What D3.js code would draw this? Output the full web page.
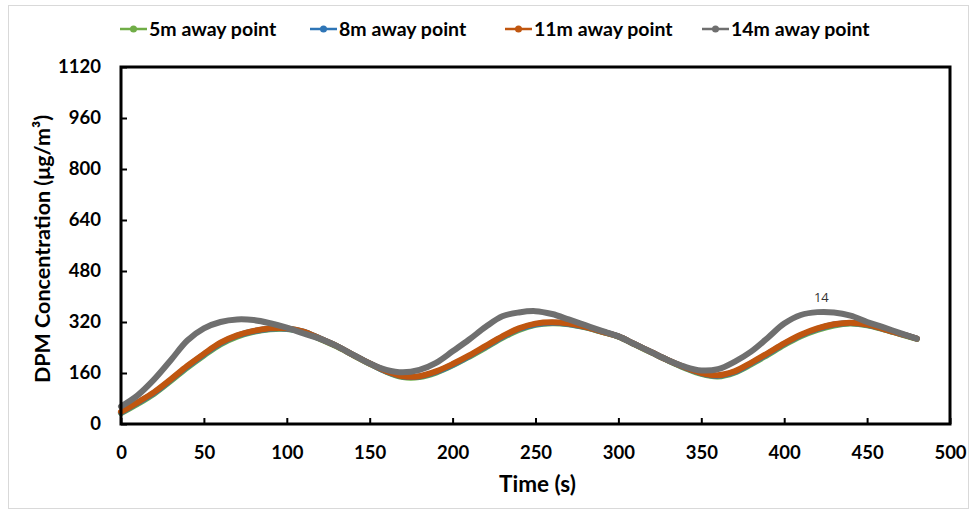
<!DOCTYPE html>
<html>
<head>
<meta charset="utf-8">
<script src="https://cdn.jsdelivr.net/npm/d3@7"></script>
<style>
  body { margin: 0; background: #fff; }
  text { font-family: Lato, "Open Sans", sans-serif; }
</style>
</head>
<body>
<div id="chart"></div>
<script>
// time (s)
const times = [0,10,20,30,40,50,60,70,80,90,100,110,120,130,140,150,160,170,180,190,200,210,220,230,240,250,260,270,280,290,300,310,320,330,340,350,360,370,380,390,400,410,420,430,440,450,460,470,480]
const names = ['5m away point', '8m away point', '11m away point', '14m away point']
const colors = ['#70ad47', '#2e75b6', '#c0560f', '#6f6f6f']
const s5 = [34,63,95,135,177,215,250,274,289,297,298,289,267,244,216,189,164,147,147,161,184,211,240,270,295,311,316,313,303,289,274,249,224,199,176,157,149,161,187,217,248,275,295,309,315,310,297,282,267]
const s8 = [36,66,98,138,180,218,253,277,291,299,299,290,268,245,217,190,165,149,149,163,186,213,243,273,298,313,318,314,304,290,275,250,225,200,177,159,151,163,190,220,251,278,298,312,317,311,298,283,268]
const s11 = [38,68,100,140,182,220,255,278,292,300,300,290,268,245,217,190,166,150,150,165,188,215,245,275,300,315,319,315,305,290,275,250,225,200,178,160,153,165,192,222,253,280,300,313,318,312,298,283,268]
const s14 = [55,90,140,200,262,300,320,328,326,316,302,284,268,245,217,190,170,162,170,192,228,265,305,338,350,354,345,328,310,292,275,250,225,200,180,168,172,195,227,270,315,342,351,350,340,320,303,285,268]
const series = [s5, s8, s11, s14]
const xTicks = [0,50,100,150,200,250,300,350,400,450,500]
const yTicks = [0,160,320,480,640,800,960,1120]
const labelIndex = 42 // "14" data label on the 14m curve

const W = 974, H = 512
const margin = {top: 67, right: 24, bottom: 88, left: 121}
const width = W - margin.left - margin.right,
      height = H - margin.top - margin.bottom

const svg = d3.select('#chart').append('svg')
    .attr('width', W).attr('height', H)

// faint chart border
svg.append('rect')
    .attr('x', 8.5).attr('y', 5.5).attr('width', W - 14).attr('height', H - 9)
    .attr('fill', 'none').attr('stroke', '#d9d9d9').attr('stroke-width', 1)

const g = svg.append('g').attr('transform', `translate(${margin.left},${margin.top})`)

const x = d3.scaleLinear().domain([0, 500]).range([0, width])
const y = d3.scaleLinear().domain([0, 1120]).range([height, 0])

// axes, ticks pointing inward
const xAxis = g.append('g').attr('transform', `translate(0,${height})`)
    .call(d3.axisBottom(x).tickValues(xTicks).tickSizeInner(-6).tickSizeOuter(0).tickPadding(22).tickFormat(d3.format('d')))
const yAxis = g.append('g')
    .call(d3.axisLeft(y).tickValues(yTicks).tickSizeInner(-6).tickSizeOuter(0).tickPadding(20).tickFormat(d3.format('d')))
;[xAxis, yAxis].forEach(a => {
    a.select('.domain').remove()
    a.selectAll('line').attr('stroke', '#000').attr('stroke-width', 2)
    a.selectAll('text').attr('fill', '#000').attr('font-size', 18.5).attr('font-weight', 'bold')
        .style('font-family', 'Lato, sans-serif')
})

// lines
const line = d3.line()
    .x((d, i) => x(times[i]))
    .y(d => y(d))
    .curve(d3.curveCatmullRom)
series.forEach((s, k) => {
    g.append('path').datum(s)
        .attr('fill', 'none')
        .attr('stroke', colors[k])
        .attr('stroke-width', 6)
        .attr('stroke-linecap', 'round')
        .attr('d', line)
})

// frame
g.append('rect').attr('width', width).attr('height', height)
    .attr('fill', 'none').attr('stroke', '#000').attr('stroke-width', 3)

// data label
g.append('text')
    .attr('x', x(times[labelIndex]) + 4)
    .attr('y', y(s14[labelIndex]) - 10)
    .attr('text-anchor', 'middle')
    .attr('font-size', 13).attr('fill', '#333')
    .style('font-family', '"Open Sans", sans-serif')
    .text('14')

// axis titles
svg.append('text')
    .attr('x', margin.left + width / 2 + 2).attr('y', 492)
    .attr('text-anchor', 'middle').attr('font-size', 22.5).attr('font-weight', 'bold')
    .text('Time (s)')
svg.append('text')
    .attr('transform', `translate(50,249) rotate(-90)`)
    .attr('text-anchor', 'middle').attr('font-size', 21.5).attr('font-weight', 'bold')
    .text('DPM Concentration (μg/m³)')

// legend
const legendX = [120, 310, 505, 702]
const legend = svg.append('g')
names.forEach((n, k) => {
    const it = legend.append('g').attr('transform', `translate(${legendX[k]},29)`)
    it.append('line').attr('x1', 0).attr('x2', 27).attr('stroke', colors[k]).attr('stroke-width', 2.5)
    it.append('circle').attr('cx', 13.5).attr('r', 3.5).attr('fill', colors[k])
    it.append('text').attr('x', 29).attr('y', 7).attr('font-size', 19.5).attr('font-weight', 'bold')
        .text(n)
})
</script>
</body>
</html>
